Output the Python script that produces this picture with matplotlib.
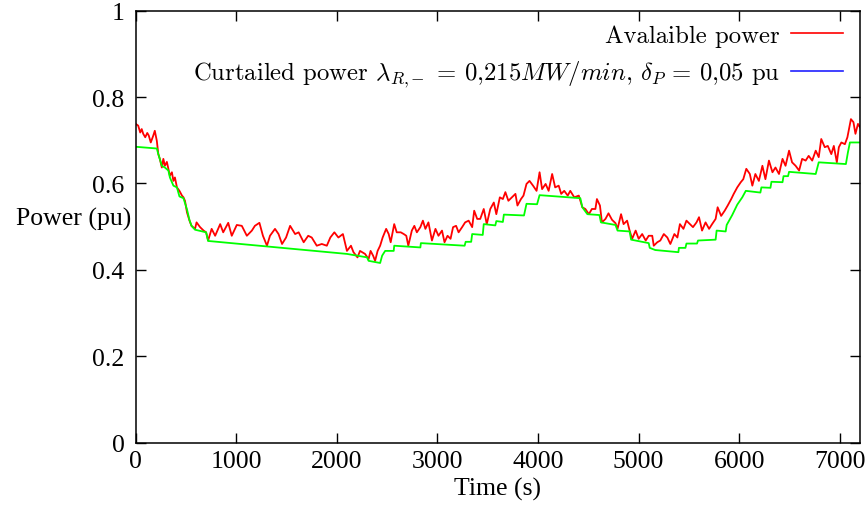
import matplotlib
matplotlib.use("Agg")
import matplotlib.pyplot as plt
from matplotlib.lines import Line2D
from matplotlib.ticker import FixedLocator, FixedFormatter

# ---------------- data ----------------
avail_t = [0, 25, 45, 60, 75, 95, 115, 130, 150, 175, 190, 210, 225, 240, 260, 275, 290, 310, 325, 340,
           360, 375, 390, 410, 435, 460, 475, 490, 510, 535, 555, 590, 605, 640, 675, 700, 720, 755, 790, 840,
           870, 920, 955, 1005, 1055, 1105, 1155, 1185, 1230, 1265, 1305, 1335, 1385, 1420, 1455, 1495, 1535, 1585, 1620, 1670,
           1715, 1750, 1800, 1850, 1900, 1935, 1975, 2015, 2060, 2100, 2140, 2165, 2205, 2230, 2280, 2315, 2335, 2360, 2380, 2405,
           2430, 2455, 2490, 2515, 2535, 2570, 2595, 2635, 2665, 2690, 2710, 2745, 2770, 2795, 2830, 2855, 2880, 2910, 2945, 2980,
           3010, 3045, 3070, 3100, 3130, 3155, 3185, 3210, 3245, 3275, 3310, 3345, 3365, 3395, 3425, 3460, 3490, 3525, 3560, 3585,
           3620, 3650, 3675, 3705, 3740, 3775, 3795, 3830, 3855, 3885, 3915, 3950, 3985, 4015, 4040, 4075, 4105, 4140, 4170, 4205,
           4230, 4260, 4295, 4320, 4360, 4405, 4440, 4470, 4505, 4535, 4570, 4585, 4615, 4635, 4670, 4700, 4735, 4770, 4790, 4825,
           4850, 4885, 4910, 4935, 4970, 5000, 5035, 5070, 5100, 5135, 5150, 5185, 5215, 5250, 5285, 5315, 5355, 5385, 5410, 5445,
           5475, 5510, 5540, 5575, 5600, 5630, 5665, 5700, 5730, 5765, 5785, 5820, 5855, 5885, 5920, 5945, 5980, 6015, 6040, 6070,
           6105, 6130, 6160, 6195, 6230, 6260, 6295, 6330, 6360, 6395, 6430, 6460, 6495, 6525, 6560, 6595, 6625, 6660, 6690, 6725,
           6760, 6790, 6815, 6850, 6880, 6915, 6940, 6970, 6990, 7015, 7050, 7075, 7110, 7135, 7155, 7180, 7200]
avail_p = [0.738, 0.734, 0.718, 0.726, 0.715, 0.707, 0.717, 0.711, 0.695, 0.711, 0.722, 0.699, 0.668, 0.657, 0.637, 0.657, 0.641, 0.650, 0.634, 0.618,
           0.626, 0.606, 0.614, 0.591, 0.583, 0.572, 0.568, 0.560, 0.533, 0.514, 0.502, 0.495, 0.510, 0.499, 0.491, 0.487, 0.468, 0.495, 0.479, 0.506,
           0.487, 0.509, 0.479, 0.504, 0.502, 0.479, 0.491, 0.502, 0.509, 0.479, 0.456, 0.479, 0.495, 0.483, 0.460, 0.475, 0.502, 0.483, 0.487, 0.464,
           0.479, 0.475, 0.456, 0.460, 0.456, 0.475, 0.487, 0.475, 0.483, 0.444, 0.456, 0.441, 0.429, 0.444, 0.437, 0.425, 0.444, 0.433, 0.421, 0.444,
           0.456, 0.475, 0.495, 0.483, 0.464, 0.506, 0.487, 0.487, 0.483, 0.479, 0.456, 0.491, 0.502, 0.487, 0.499, 0.514, 0.495, 0.510, 0.468, 0.495,
           0.479, 0.491, 0.464, 0.479, 0.472, 0.499, 0.502, 0.487, 0.499, 0.510, 0.514, 0.499, 0.537, 0.518, 0.518, 0.541, 0.506, 0.541, 0.556, 0.529,
           0.568, 0.564, 0.580, 0.560, 0.568, 0.576, 0.549, 0.564, 0.572, 0.599, 0.606, 0.595, 0.583, 0.626, 0.587, 0.599, 0.583, 0.622, 0.591, 0.595,
           0.576, 0.583, 0.572, 0.583, 0.568, 0.572, 0.545, 0.541, 0.529, 0.541, 0.541, 0.564, 0.549, 0.510, 0.518, 0.531, 0.516, 0.508, 0.495, 0.529,
           0.506, 0.514, 0.491, 0.472, 0.491, 0.472, 0.483, 0.468, 0.479, 0.479, 0.456, 0.464, 0.468, 0.483, 0.475, 0.460, 0.483, 0.475, 0.506, 0.495,
           0.514, 0.506, 0.499, 0.510, 0.522, 0.491, 0.510, 0.495, 0.506, 0.518, 0.545, 0.525, 0.537, 0.549, 0.564, 0.576, 0.591, 0.603, 0.610, 0.634,
           0.622, 0.595, 0.622, 0.606, 0.641, 0.610, 0.653, 0.626, 0.637, 0.622, 0.657, 0.641, 0.676, 0.649, 0.641, 0.630, 0.657, 0.653, 0.664, 0.653,
           0.676, 0.661, 0.703, 0.684, 0.687, 0.668, 0.687, 0.649, 0.684, 0.695, 0.691, 0.707, 0.749, 0.742, 0.715, 0.738, 0.730]

curt_t = [0, 210, 225, 260, 290, 325, 340, 375, 410, 435, 475, 510, 535, 555, 590, 700, 720, 2100, 2300, 2315,
          2430, 2450, 2480, 2565, 2570, 2830, 2835, 3270, 3280, 3335, 3345, 3450, 3460, 3575, 3585, 3650, 3660, 3860, 3885, 3990,
          4015, 4420, 4440, 4490, 4610, 4625, 4770, 4790, 4910, 4925, 5100, 5110, 5165, 5395, 5400, 5465, 5475, 5580, 5590, 5765,
          5775, 5865, 5875, 5930, 5980, 6030, 6065, 6210, 6220, 6310, 6320, 6430, 6440, 6485, 6495, 6760, 6790, 7060, 7080, 7100, 7200]
curt_p = [0.685, 0.681, 0.668, 0.641, 0.637, 0.630, 0.614, 0.595, 0.591, 0.570, 0.566, 0.540, 0.515, 0.502, 0.493, 0.487, 0.467, 0.437, 0.429, 0.421,
          0.416, 0.433, 0.444, 0.444, 0.456, 0.452, 0.462, 0.456, 0.465, 0.465, 0.483, 0.481, 0.506, 0.503, 0.513, 0.511, 0.528, 0.526, 0.553, 0.552,
          0.573, 0.566, 0.545, 0.529, 0.527, 0.510, 0.504, 0.491, 0.489, 0.470, 0.462, 0.451, 0.446, 0.441, 0.451, 0.451, 0.461, 0.461, 0.468, 0.470,
          0.491, 0.489, 0.504, 0.527, 0.551, 0.568, 0.583, 0.579, 0.591, 0.590, 0.604, 0.603, 0.617, 0.617, 0.627, 0.622, 0.649, 0.645, 0.672, 0.695, 0.695]

x_ticks = [0, 1000, 2000, 3000, 4000, 5000, 6000, 7000]
x_tick_labels = ["0", "1000", "2000", "3000", "4000", "5000", "6000", "7000"]
y_ticks = [0, 0.2, 0.4, 0.6, 0.8, 1]
y_tick_labels = ["0", "0.2", "0.4", "0.6", "0.8", "1"]

label_avail = "Avalaible power"
label_curt = (r"Curtailed power $\lambda_{R{,}-} \,=\, 0{,}215 MW/min$, "
              r"$\delta_P \,=\, 0{,}05$ pu")

# ---------------- style ----------------
plt.rcParams["font.family"] = ["Liberation Serif", "DejaVu Serif"]
plt.rcParams["mathtext.fontset"] = "cm"
FS = 18.5
LFS = 17.8

fig = plt.figure(figsize=(8.67, 5.06), dpi=100)
ax = fig.add_axes([0.1565, 0.1231, 0.8354, 0.8538])

ax.plot(avail_t, avail_p, color="#ff0000", lw=1.3)
ax.plot(curt_t, curt_p, color="#00ff00", lw=1.3)

ax.set_xlim(0, 7200)
ax.set_ylim(0, 1)
ax.xaxis.set_major_locator(FixedLocator(x_ticks))
ax.xaxis.set_major_formatter(FixedFormatter(x_tick_labels))
ax.yaxis.set_major_locator(FixedLocator(y_ticks))
ax.yaxis.set_major_formatter(FixedFormatter(y_tick_labels))

ax.tick_params(direction="in", length=7.2, width=1.0, top=True, right=True,
               labelsize=FS, colors="black")
ax.tick_params(axis="x", pad=5)
ax.tick_params(axis="y", pad=8)
for s in ax.spines.values():
    s.set_linewidth(1.1)

ax.set_xlabel("Time (s)", fontsize=FS, labelpad=4)
ax.text(-0.006, 0.518, "Power (pu)", transform=ax.transAxes, ha="right",
        va="center", fontsize=FS)

handles = [Line2D([], [], color="#ff0000", lw=1.2),
           Line2D([], [], color="#2020ff", lw=1.2)]
leg = ax.legend(handles, [label_avail, label_curt], loc="upper right",
                bbox_to_anchor=(0.9765, 0.968), frameon=False, markerfirst=False,
                handlelength=2.1, handletextpad=0.45, borderpad=0, borderaxespad=0,
                labelspacing=0.45, prop={"family": "cmr10", "size": LFS})

fig.savefig("out.png", dpi=100)
